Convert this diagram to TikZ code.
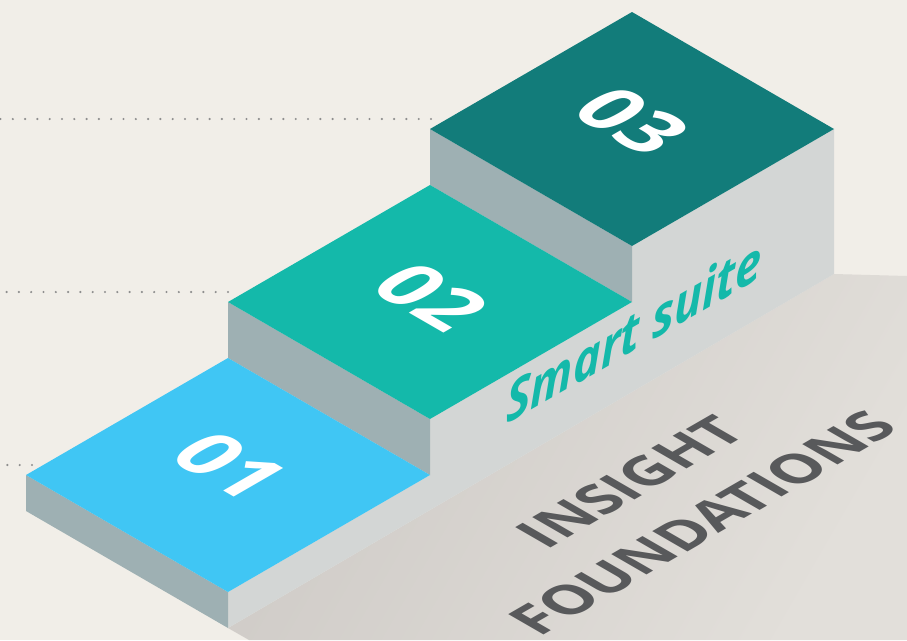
\documentclass[tikz,border=0pt]{standalone}
\usepackage{fontspec}
\setmainfont{Open Sans}
\begin{document}
\begin{tikzpicture}[x=1pt,y=-1pt]
  % palette
  \definecolor{bg}{HTML}{F1EEE8}
  \definecolor{stepA}{HTML}{40C6F4}
  \definecolor{stepB}{HTML}{14B9AA}
  \definecolor{stepC}{HTML}{127C7A}
  \definecolor{riser}{HTML}{9EB0B3}
  \definecolor{sideface}{HTML}{D3D6D5}
  \definecolor{floorA}{HTML}{CECAC6}
  \definecolor{floorB}{HTML}{E2DFDA}
  \definecolor{ink}{HTML}{58595B}
  \definecolor{dotc}{HTML}{8E8E8E}

  \tikzset{
    guide/.style={dotc, line width=2.4pt, line cap=round, dash pattern=on 0pt off 12.3pt},
    topface/.style={cm={0.866,-0.5,0.866,0.5,(0,0)}, transform shape, inner sep=0pt,
      text=white, font=\fontsize{80}{80}\selectfont\bfseries},
    wallface/.style={cm={0.866,0.5,0,1,(0,0)}, transform shape, inner sep=0pt,
      text=stepB, font=\fontsize{54}{54}\selectfont\bfseries\itshape},
    floorface/.style={cm={0.866,0.5,-0.866,0.5,(0,0)}, transform shape, inner sep=0pt,
      text=ink, font=\fontsize{57}{57}\selectfont\bfseries},
  }

  \fill[bg] (0,0) rectangle (907,640);
  \useasboundingbox (0,0) rectangle (907,640);

  % corner points of the three blocks
  \coordinate (L1) at (26,475);  \coordinate (T1) at (228,358);
  \coordinate (R1) at (430,475); \coordinate (B1) at (228,592);
  \coordinate (L1g) at (26,511); \coordinate (B1g) at (228,628);
  \coordinate (L2) at (228,302); \coordinate (T2) at (430,185);
  \coordinate (R2) at (632,302); \coordinate (B2) at (430,419);
  \coordinate (L3) at (430,129); \coordinate (T3) at (632,12);
  \coordinate (R3) at (834,129); \coordinate (B3) at (632,246);
  \coordinate (R3g) at (834,274);
  % floor shadow outline
  \coordinate (S1) at (907,276); \coordinate (S2) at (907,640);
  \coordinate (S3) at (249,640);

  % guide lines
  \coordinate (g1e) at (431,119); \coordinate (g1s) at (0,119);
  \coordinate (g2e) at (228,292); \coordinate (g2s) at (0,292);
  \coordinate (g3e) at (32,465);  \coordinate (g3s) at (0,465);
  \draw[guide] (g1e) -- (g1s);
  \draw[guide] (g2e) -- (g2s);
  \draw[guide] (g3e) -- (g3s);

  % shadow on the floor
  \shade[left color=floorA, right color=floorB, shading angle=60]
    (B1g) -- (R3g) -- (S1) -- (S2) -- (S3) -- cycle;

  % right side wall of the stairs
  \fill[sideface] (R3) -- (B3) -- (R2) -- (B2) -- (R1) -- (B1) -- (B1g) -- (R3g) -- cycle;

  % front faces
  \fill[riser] (L1) -- (B1) -- (B1g) -- (L1g) -- cycle;
  \fill[riser] (L2) -- (B2) -- (R1) -- (T1) -- cycle;
  \fill[riser] (L3) -- (B3) -- (R2) -- (T2) -- cycle;

  % treads
  \fill[stepA] (L1) -- (T1) -- (R1) -- (B1) -- cycle;
  \fill[stepB] (L2) -- (T2) -- (R2) -- (B2) -- cycle;
  \fill[stepC] (L3) -- (T3) -- (R3) -- (B3) -- cycle;

  % step numbers
  \node[topface] (n1) at (230,466) {01};
  \node[topface] (n2) at (431,297) {02};
  \node[topface] (n3) at (632,121) {03};

  % wall caption
  \node[wallface, anchor=base west] (cap) at (506,425) {Smart suite};

  % floor captions
  \node[floorface, anchor=base] (ins) at (648,492) {INSIGHT};
  \node[floorface, anchor=base] (fnd) at (720,533) {FOUNDATIONS};
\end{tikzpicture}
\end{document}
